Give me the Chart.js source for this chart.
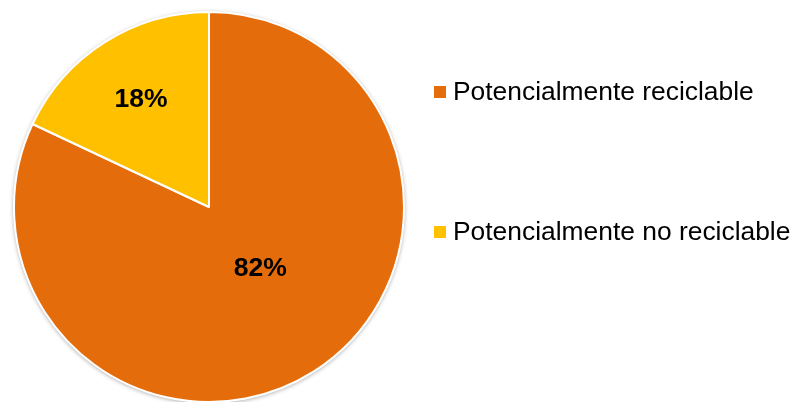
<!DOCTYPE html>
<html>
<head>
<meta charset="utf-8">
<script src="https://cdn.jsdelivr.net/npm/chart.js@4/dist/chart.umd.min.js"></script>
<style>
	html, body { margin: 0; padding: 0; background: #fff; overflow: hidden; }
	#wrap { width: 796px; height: 404px; position: relative; }
</style>
</head>
<body>
<div id="wrap"><canvas id="pieChart"></canvas></div>
<script>
// =================== DATA ===================
const labels = ["Potencialmente reciclable", "Potencialmente no reciclable"];
const values = [82, 18];
const colors = ["#E46C0A", "#FFC000"];

// label placement per slice: share of radius, angle nudge in degrees
const labelRadius = [0.41, 0.65];
const labelNudge = [-7.5, 0];
const legendRows = [92, 232];

// =================== PLUGINS ===================
const shadowPlugin = {
	id: "pieShadow",
	beforeDatasetsDraw(chart) {
		const arc = chart.getDatasetMeta(0).data[0];
		if (!arc) return;
		const { x, y, outerRadius } = arc.getProps(["x", "y", "outerRadius"], true);
		const ctx = chart.ctx;
		ctx.save();
		ctx.shadowColor = "rgba(0,0,0,0.35)";
		ctx.shadowBlur = 4;
		ctx.shadowOffsetX = 0;
		ctx.shadowOffsetY = 1;
		ctx.fillStyle = "#fff";
		ctx.beginPath();
		ctx.arc(x, y, outerRadius + 0.5, 0, Math.PI * 2);
		ctx.fill();
		ctx.restore();
	},
};

const percentLabels = {
	id: "percentLabels",
	afterDatasetsDraw(chart) {
		const ctx = chart.ctx;
		const data = chart.data.datasets[0].data;
		const total = data.reduce((a, b) => a + b, 0);
		ctx.save();
		ctx.font = "bold 26.5px 'Liberation Sans', Arial, sans-serif";
		ctx.fillStyle = "#000";
		ctx.textAlign = "center";
		ctx.textBaseline = "middle";
		chart.getDatasetMeta(0).data.forEach((arc, i) => {
			const { x, y, startAngle, endAngle, outerRadius } = arc.getProps(
				["x", "y", "startAngle", "endAngle", "outerRadius"],
				true,
			);
			const mid = (startAngle + endAngle) / 2 + (labelNudge[i] * Math.PI) / 180;
			const r = outerRadius * labelRadius[i];
			const pct = Math.round((data[i] / total) * 100);
			ctx.fillText(`${pct}%`, x + Math.cos(mid) * r, y + Math.sin(mid) * r);
		});
		ctx.restore();
	},
};

const sideLegend = {
	id: "sideLegend",
	afterDraw(chart) {
		const ctx = chart.ctx;
		const ds = chart.data.datasets[0];
		ctx.save();
		ctx.font = "26.4px 'Liberation Sans', Arial, sans-serif";
		ctx.textBaseline = "middle";
		ctx.textAlign = "left";
		chart.data.labels.forEach((label, i) => {
			const cy = legendRows[i];
			ctx.fillStyle = ds.backgroundColor[i];
			ctx.fillRect(434, cy - 6, 12, 12);
			ctx.fillStyle = "#000";
			ctx.fillText(label, 453, cy + 1);
		});
		ctx.restore();
	},
};

// =================== CHART ===================
const ctx = document.getElementById("pieChart").getContext("2d");
new Chart(ctx, {
	type: "pie",
	data: {
		labels,
		datasets: [
			{
				data: values,
				backgroundColor: colors,
				borderColor: "#fff",
				borderWidth: 2,
			},
		],
	},
	options: {
		responsive: true,
		maintainAspectRatio: false,
		animation: false,
		layout: { padding: { left: 13, right: 391, top: 11, bottom: 1 } },
		plugins: {
			legend: { display: false },
			tooltip: { enabled: false },
		},
	},
	plugins: [shadowPlugin, percentLabels, sideLegend],
});
</script>
</body>
</html>
